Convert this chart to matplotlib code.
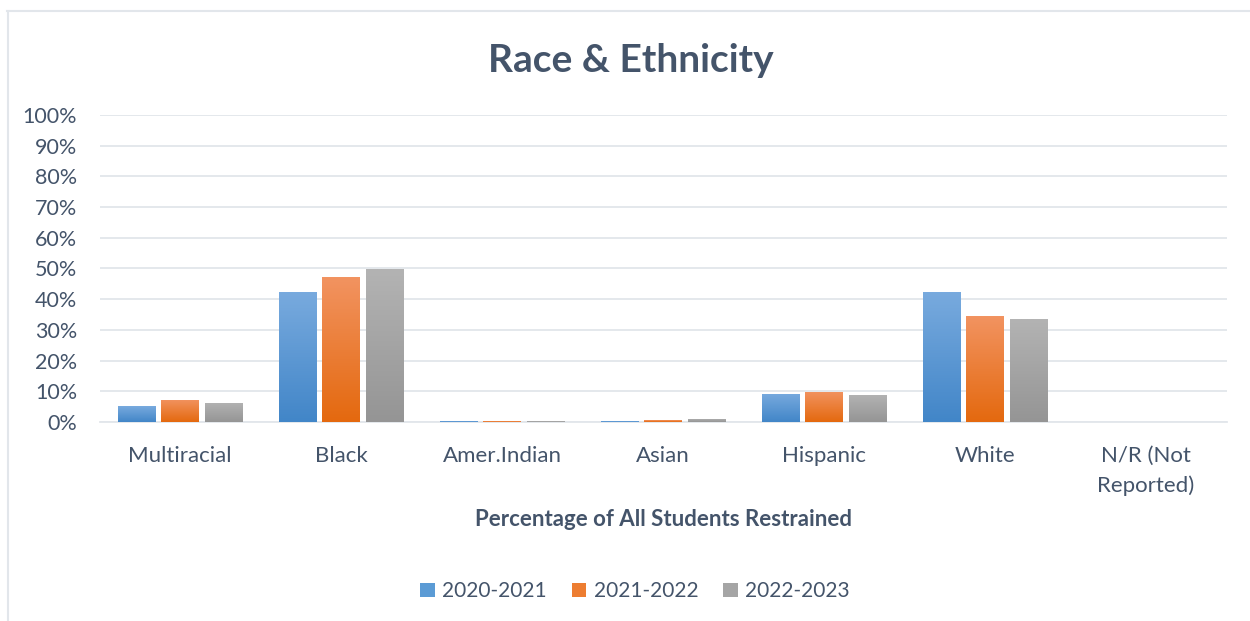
import numpy as np
import matplotlib.pyplot as plt
from matplotlib.colors import LinearSegmentedColormap
from matplotlib.lines import Line2D
from matplotlib.patches import Patch

plt.rcParams['font.family'] = ['Lato', 'DejaVu Sans']

categories = ['Multiracial', 'Black', 'Amer.Indian', 'Asian', 'Hispanic', 'White', 'N/R (Not\nReported)']
years = ['2020-2021', '2021-2022', '2022-2023']
vals_2021 = [0.052, 0.423, 0.002, 0.002, 0.092, 0.423, 0.0]
vals_2122 = [0.072, 0.472, 0.002, 0.006, 0.098, 0.345, 0.0]
vals_2223 = [0.062, 0.498, 0.002, 0.010, 0.088, 0.335, 0.0]
series = [vals_2021, vals_2122, vals_2223]

# gradient (top colour, bottom colour) per series
grads = [('#78AADE', '#4286C8'), ('#F29360', '#E4690F'), ('#B3B3B3', '#959595')]
legend_cols = ['#5B9BD5', '#ED7D31', '#A5A5A5']
txt = '#44546A'
grid_c = '#E2E6EB'

fig = plt.figure(figsize=(12.5, 6.21), dpi=100)
ax = fig.add_axes([0.0796, 0.3205, 0.9016, 0.4943])

x = np.arange(len(categories))
w = 0.23
gap = 0.043
for i, vals in enumerate(series):
    off = (i - 1) * (w + gap)
    bars = ax.bar(x + off, vals, w, color=legend_cols[i], zorder=2)
    cmap = LinearSegmentedColormap.from_list('g%d' % i, [grads[i][1], grads[i][0]])
    for b in bars:
        if b.get_height() <= 0:
            continue
        bx, by = b.get_xy()
        im = ax.imshow(np.linspace(0, 1, 64).reshape(-1, 1), cmap=cmap, origin='lower',
                       extent=[bx, bx + b.get_width(), by, by + b.get_height()],
                       aspect='auto', zorder=3)
        im.set_clip_path(b)

ax.set_xlim(-0.5, len(categories) - 0.5)
ax.set_ylim(0, 1)
ax.set_yticks(np.arange(0, 1.01, 0.1))
ax.set_yticklabels(['%d%%' % v for v in range(0, 101, 10)])
ax.set_xticks(x)
ax.set_xticklabels(categories, linespacing=1.6)
ax.grid(axis='y', color=grid_c, linewidth=1.3, zorder=0)
ax.set_axisbelow(True)
for s in ['top', 'right', 'left']:
    ax.spines[s].set_visible(False)
ax.spines['bottom'].set_color(grid_c)
ax.spines['bottom'].set_linewidth(1.3)
ax.tick_params(axis='both', length=0, colors=txt)
ax.tick_params(axis='x', pad=17, labelsize=16)
ax.tick_params(axis='y', pad=16, labelsize=15.5)
for t in ax.get_yticklabels():
    t.set_color(txt)
for t in ax.get_xticklabels():
    t.set_color(txt)

fig.text(0.505, 0.903, 'Race & Ethnicity', ha='center', va='center', fontsize=28,
         fontweight='bold', color=txt)
fig.text(0.531, 0.163, 'Percentage of All Students Restrained', ha='center', va='center',
         fontsize=16, fontweight='bold', color=txt)

handles = [Patch(facecolor=c, edgecolor='none') for c in legend_cols]
fig.legend(handles, years, loc='center', bbox_to_anchor=(0.508, 0.048), ncol=3, frameon=False,
           fontsize=15, labelcolor=txt, handlelength=0.7, handleheight=0.7,
           handletextpad=0.35, columnspacing=1.2)

# chart border (top and left edges)
fig.add_artist(Line2D([0.0056, 1.0], [0.983, 0.983], color=grid_c, linewidth=1.5))
fig.add_artist(Line2D([0.0064, 0.0064], [0.0, 0.983], color=grid_c, linewidth=1.5))

fig.savefig('out.png', dpi=100)
